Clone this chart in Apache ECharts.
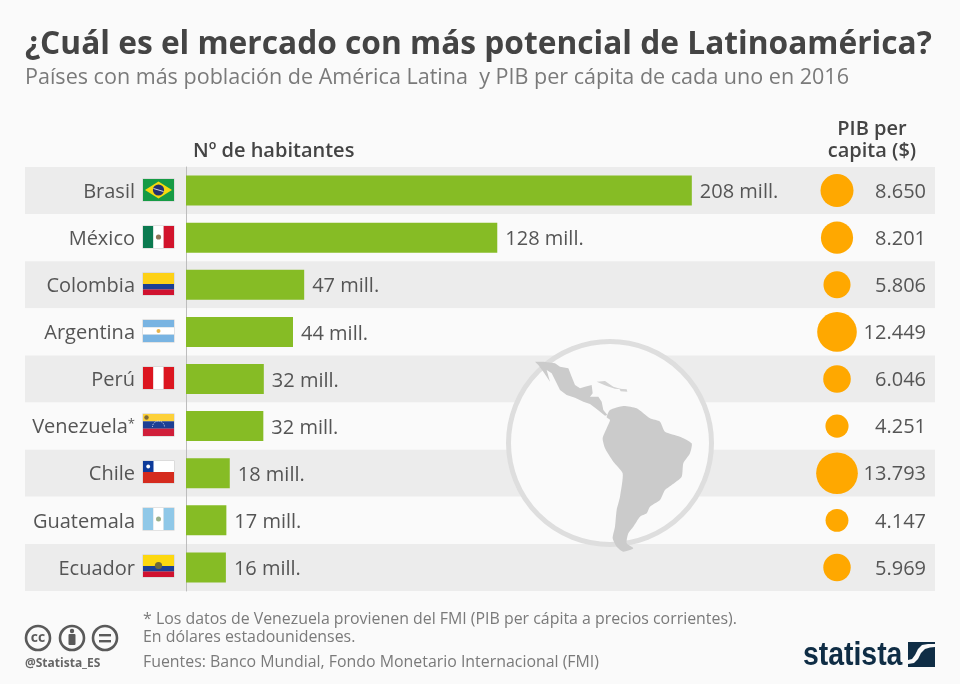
<!DOCTYPE html>
<html><head><meta charset="utf-8">
<style>html,body{margin:0;padding:0;background:#fafafa}#c{width:960px;height:684px}</style>
<script src="https://cdn.jsdelivr.net/npm/echarts@6/dist/echarts.min.js"></script>
</head><body><div id="c"></div>
<script>
const countries = ['Brasil','México','Colombia','Argentina','Perú','Venezuela*','Chile','Guatemala','Ecuador'];
const population = [208,128,48.6,44,32,31.8,18,16.6,16.4];
const populationLabels = ['208 mill.','128 mill.','47 mill.','44 mill.','32 mill.','32 mill.','18 mill.','17 mill.','16 mill.'];
const gdp = [8650,8201,5806,12449,6046,4251,13793,4147,5969];
const gdpLabels = ['8.650','8.201','5.806','12.449','6.046','4.251','13.793','4.147','5.969'];

const FONT = '"Open Sans", "Noto Sans", sans-serif';
const TXT = '#555555';

function stripesH(cols, w, h){ const o=[]; let y=0; cols.forEach(([c,f])=>{o.push({type:'rect',shape:{x:0,y:y,width:w,height:h*f},style:{fill:c}}); y+=h*f;}); return o; }
function stripesV(cols, w, h){ const o=[]; let x=0; cols.forEach(([c,f])=>{o.push({type:'rect',shape:{x:x,y:0,width:w*f,height:h},style:{fill:c}}); x+=w*f;}); return o; }
function dot(x,y,r,c){ return {type:'circle',shape:{cx:x,cy:y,r:r},style:{fill:c}}; }
const W=31,H=22;
const flags = {
  'Brasil': ()=>[{type:'rect',shape:{x:0,y:0,width:W,height:H},style:{fill:'#169b45'}},
    {type:'polygon',shape:{points:[[2,11],[15.5,2.5],[29,11],[15.5,19.5]]},style:{fill:'#f5d90f'}},dot(15.5,11,5.6,'#27306f'),
    {type:'line',shape:{x1:10.5,y1:9.5,x2:20.5,y2:12.5},style:{stroke:'#fff',lineWidth:0.8}}],
  'México': ()=>[...stripesV([['#0b7a50',1/3],['#ffffff',1/3],['#d2142c',1/3]],W,H),dot(15.5,11,2.6,'#8f7458')],
  'Colombia': ()=>stripesH([['#fdd116',.5],['#1c3f94',.25],['#d0122f',.25]],W,H),
  'Argentina': ()=>[...stripesH([['#79b4e2',1/3],['#ffffff',1/3],['#79b4e2',1/3]],W,H),dot(15.5,11,2,'#e9b44a')],
  'Perú': ()=>stripesV([['#dc1620',1/3],['#ffffff',1/3],['#dc1620',1/3]],W,H),
  'Venezuela*': ()=>[...stripesH([['#fdd13a',1/3],['#1d3f94',1/3],['#d01f3a',1/3]],W,H),dot(3.5,3.5,2.2,'#7d6a3a'),
    {type:'arc',shape:{cx:15.5,cy:13,r:6,startAngle:Math.PI,endAngle:0},style:{stroke:'#fff',fill:null,lineWidth:0.8,lineDash:[1,1]}}],
  'Chile': ()=>[{type:'rect',shape:{x:0,y:0,width:W,height:H/2},style:{fill:'#fff'}},{type:'rect',shape:{x:0,y:H/2,width:W,height:H/2},style:{fill:'#d52b1e'}},
    {type:'rect',shape:{x:0,y:0,width:10.5,height:H/2},style:{fill:'#0d3b9a'}},dot(5.2,5.5,1.9,'#fff')],
  'Guatemala': ()=>[...stripesV([['#8fc8e8',1/3],['#ffffff',1/3],['#8fc8e8',1/3]],W,H),dot(15.5,11,2.5,'#9bb08a')],
  'Ecuador': ()=>[...stripesH([['#fdd80f',.5],['#1c3f94',.25],['#d0122f',.25]],W,H),dot(15.5,10.5,3.6,'#6f6a3a')]
};

const mapMain = [[135,95],[160,95],[195,100],[210,110],[235,115],[245,140],[255,165],[270,175],[285,170],[305,165],[308,190],[300,200],[325,200],[335,215],[340,240],[352,255],[345,257],[320,237],[300,222],[280,215],[255,203],[230,195],[210,180],[200,160],[185,130],[170,120],[180,155],[160,125],[145,105]];
const mapSouth = [[350,262],[360,240],[400,228],[440,235],[480,265],[510,275],[525,305],[570,320],[605,340],[600,370],[580,400],[575,440],[545,465],[525,480],[510,510],[480,530],[470,550],[450,560],[430,590],[415,610],[410,640],[430,655],[400,665],[380,650],[368,625],[375,590],[380,540],[390,500],[398,430],[370,395],[345,355],[338,325],[350,295],[360,270]];
const mapCuba = [[320,155],[345,153],[370,170],[395,178],[375,176],[350,168]];
const mapHisp = [[388,176],[410,178],[412,185],[392,184]];
const z3 = p => p.map(([x,y])=>[490+x/3,330+y/3]);
const logoWave = [[908,664],[914,663],[918,659],[921,653],[925,649],[930,647.5],[935,647],[935,644],[928,644],[922,645],[918,649],[915,655],[912,659],[908,660]];

function textEl(x,y,t,font,fill,extra,el){ return Object.assign({type:'text',x:x,y:y,z:5,style:Object.assign({text:t,font:font,fill:fill,textVerticalAlign:'middle'},extra||{})},el||{}); }
function ccCircle(cx){ return {type:'circle',z:5,shape:{cx:cx,cy:638,r:12},style:{fill:'none',stroke:'#5a5a5a',lineWidth:2.6}}; }

const option = {
  backgroundColor:'#fafafa',
  animation:false,
  textStyle:{fontFamily:FONT},
  grid:[
    {left:25,right:25,top:167,height:424},
    {left:186,right:25,top:167,height:424},
    {left:739,right:25,top:167,height:424}
  ],
  xAxis:[
    {gridIndex:0,type:'value',show:false,min:0,max:1},
    {gridIndex:1,type:'value',show:false,min:0,max:308},
    {gridIndex:2,type:'value',show:false,min:0,max:1}
  ],
  yAxis:[
    {gridIndex:0,type:'category',inverse:true,data:countries,z:0,axisLine:{show:false},axisTick:{show:false},axisLabel:{show:false},
      splitLine:{show:false},splitArea:{show:true,areaStyle:{color:['#ececec','#fafafa']}}},
    {gridIndex:1,type:'category',inverse:true,data:countries,z:3,axisLine:{show:true,onZero:false,lineStyle:{color:'#bdbdbd',width:1}},axisTick:{show:false},splitLine:{show:false},
      axisLabel:{margin:51,fontSize:20,color:TXT,fontFamily:FONT,align:'right',padding:[3,0,0,0],
        formatter:v=>v.endsWith('*')?'{a|'+v.slice(0,-1)+'}{s|*}':'{a|'+v+'}',
        rich:{a:{fontSize:20,color:TXT,fontFamily:FONT},s:{fontSize:13,color:TXT,fontFamily:FONT,verticalAlign:'top'}}}},
    {gridIndex:2,type:'category',inverse:true,position:'right',data:gdpLabels,z:3,axisLine:{show:false},axisTick:{show:false},splitLine:{show:false},
      axisLabel:{inside:true,margin:9,fontSize:20,color:TXT,fontFamily:FONT,align:'right',padding:[3,0,0,0],
        formatter:v=>'{a|'+v+'}',rich:{a:{fontSize:20,color:TXT,fontFamily:FONT}}}}
  ],
  series:[
    {type:'bar',xAxisIndex:1,yAxisIndex:1,z:4,data:population,barWidth:30,itemStyle:{color:'#86bc25'},
      label:{show:true,position:'right',distance:8,offset:[0,2],fontSize:20,color:TXT,fontFamily:FONT,formatter:p=>populationLabels[p.dataIndex]}},
    {type:'scatter',xAxisIndex:2,yAxisIndex:2,z:4,data:gdp.map((v,i)=>[0.5,i,v]),symbol:'circle',
      symbolSize:d=>Math.sqrt(d[2])*0.355,itemStyle:{color:'#ffa800',opacity:1},silent:true},
    {type:'custom',xAxisIndex:1,yAxisIndex:1,z:4,clip:false,data:countries.map((c,i)=>[0,i]),encode:{x:0,y:1},
      renderItem:(params,api)=>{
        const i=api.value(1); const p=api.coord([0,i]);
        return {type:'group',x:p[0]-43,y:Math.round(p[1]-H/2-1),children:[
          {type:'rect',shape:{x:-0.5,y:-0.5,width:W+1,height:H+1},style:{fill:'#cccccc'}},
          ...flags[countries[i]]()]};
      }}
  ],
  title:[
    {text:'¿Cuál es el mercado con más potencial de Latinoamérica?',left:25,top:29,padding:0,textStyle:{fontFamily:FONT,fontSize:31.7,fontWeight:700,color:'#444444'}},
    {text:'Países con más población de América Latina  y PIB per cápita de cada uno en 2016',left:25,top:67,padding:0,textStyle:{fontFamily:FONT,fontSize:21.55,fontWeight:400,color:'#7a7a7a'}}
  ],
  graphic:[
    {type:'circle',z:1,shape:{cx:610,cy:443,r:101.5},style:{fill:'#fafafa',stroke:'#dedede',lineWidth:5}},
    {type:'polygon',z:1,shape:{points:z3(mapMain)},style:{fill:'#cbcbcb'}},
    {type:'polygon',z:1,shape:{points:z3(mapSouth),smooth:0.2},style:{fill:'#cbcbcb'}},
    {type:'polygon',z:1,shape:{points:z3(mapCuba)},style:{fill:'#d2d2d2'}},
    {type:'polygon',z:1,shape:{points:z3(mapHisp)},style:{fill:'#d2d2d2'}},
    textEl(193,151,'Nº de habitantes','600 20px '+FONT,'#444444'),
    textEl(872,129,'PIB per','600 20px '+FONT,'#444444',{textAlign:'center'}),
    textEl(872,151,'capita ($)','600 20px '+FONT,'#444444',{textAlign:'center'}),
    textEl(143,619,'* Los datos de Venezuela provienen del FMI (PIB per cápita a precios corrientes).','15.9px '+FONT,'#7a7a7a'),
    textEl(143,637,'En dólares estadounidenses.','15.9px '+FONT,'#7a7a7a'),
    textEl(143,662,'Fuentes: Banco Mundial, Fondo Monetario Internacional (FMI)','15.9px '+FONT,'#7a7a7a'),
    ccCircle(38),ccCircle(72),ccCircle(105),
    textEl(38,638,'cc','700 14px '+FONT,'#5a5a5a',{textAlign:'center'}),
    {type:'circle',z:5,shape:{cx:72,cy:631,r:2.2},style:{fill:'#5a5a5a'}},
    {type:'rect',z:5,shape:{x:68.5,y:634,width:7,height:11,r:1},style:{fill:'#5a5a5a'}},
    {type:'rect',z:5,shape:{x:99,y:634,width:12,height:2.4},style:{fill:'#5a5a5a'}},
    {type:'rect',z:5,shape:{x:99,y:640,width:12,height:2.4},style:{fill:'#5a5a5a'}},
    textEl(25,664,'@Statista_ES','700 12px '+FONT,'#666666'),
    textEl(803,656,'statista','700 33px "Liberation Sans", sans-serif','#0f2d45',null,{scaleX:0.86}),
    {type:'rect',z:5,shape:{x:908,y:642,width:27,height:25},style:{fill:'#0f2d45'}},
    {type:'polygon',z:6,shape:{points:logoWave},style:{fill:'#fafafa'}}
  ]
};
const chart = echarts.init(document.getElementById('c'),null,{renderer:'canvas'});
chart.setOption(option);
</script>
</body></html>
